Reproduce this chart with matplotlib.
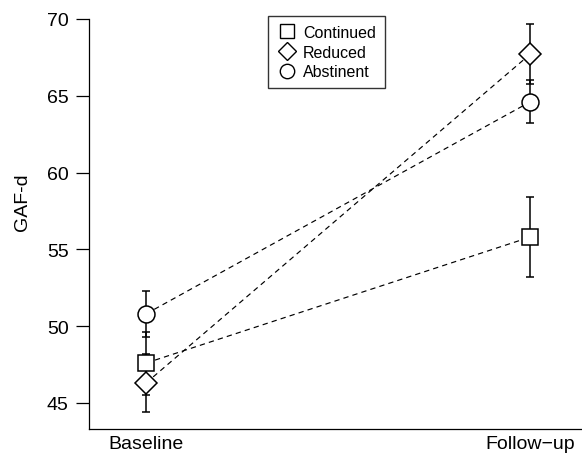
import matplotlib
matplotlib.use("Agg")
import matplotlib.pyplot as plt

plt.rcParams['font.family'] = ['Liberation Sans', 'DejaVu Sans']

timepoints = ["Baseline", "Follow\u2212up"]
groups = ["Continued", "Reduced", "Abstinent"]
means = {
    "Continued": [47.6, 55.8],
    "Reduced": [46.3, 67.7],
    "Abstinent": [50.8, 64.6],
}
errors = {
    "Continued": [2.05, 2.6],
    "Reduced": [1.9, 1.95],
    "Abstinent": [1.5, 1.4],
}
markers = {"Continued": "s", "Reduced": "D", "Abstinent": "o"}
msizes = {"Continued": 12.0, "Reduced": 11.0, "Abstinent": 12.2}
yticks = [45, 50, 55, 60, 65, 70]

W, H = 582, 456
fig = plt.figure(figsize=(W / 100, H / 100), dpi=100)
ax = fig.add_axes([89 / W, (H - 430) / H, 493 / W, 410 / H])

x = [1, 2]
handles = []
for g in groups:
    ax.errorbar(x, means[g], yerr=errors[g], fmt='none', ecolor='black',
                elinewidth=1.1, capsize=3.2, capthick=1.1, zorder=1)
    ax.plot(x, means[g], linestyle=(0, (4.5, 3.5)), color='black', lw=0.85, zorder=2)
    h, = ax.plot(x, means[g], linestyle='none', marker=markers[g], ms=msizes[g],
                 mfc='white', mec='black', mew=1.1, zorder=3, label=g)
    handles.append(h)

ax.set_xlim(1 - 57 / 384, 2 + 52 / 384)
ax.set_ylim(70 - 410 / 15.36, 70)
ax.set_yticks(yticks)
ax.set_xticks(x)
ax.set_xticklabels(timepoints)
ax.tick_params(axis='y', direction='out', length=9.5, width=0.9, pad=5, labelsize=14)
ax.tick_params(axis='x', length=0, pad=4.5, labelsize=14)
for s in ['top', 'right']:
    ax.spines[s].set_visible(False)
for s in ['left', 'bottom']:
    ax.spines[s].set_linewidth(0.9)
ax.spines['left'].set_bounds(ax.get_ylim()[0], 70)
ax.set_ylabel("GAF-d", fontsize=14)
ax.yaxis.set_label_coords(-0.118, 0.556)

leg = ax.legend(handles=[plt.Line2D([], [], linestyle='none', marker=markers[g], ms=msizes[g] * 0.85,
                                    mfc='white', mec='black', mew=1.0) for g in groups],
                labels=groups, loc='upper left',
                bbox_to_anchor=(268 / W, 1 - 17 / H), bbox_transform=fig.transFigure,
                fontsize=11.5, frameon=True, fancybox=False, borderaxespad=0,
                handletextpad=0.4, handlelength=1.25, borderpad=0.55, labelspacing=0.3)
leg.get_frame().set_edgecolor('black')
leg.get_frame().set_linewidth(1.0)

fig.savefig("out.png", dpi=100)
